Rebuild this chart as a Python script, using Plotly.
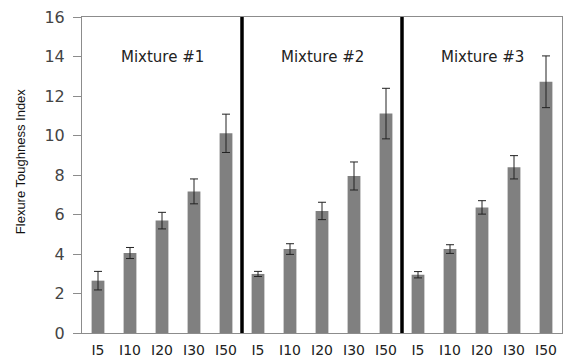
import plotly.graph_objects as go

categories = ["I5", "I10", "I20", "I30", "I50"]
mixtures = ["Mixture #1", "Mixture #2", "Mixture #3"]
values_m1 = [2.65, 4.05, 5.69, 7.17, 10.11]
values_m2 = [2.99, 4.25, 6.18, 7.95, 11.11]
values_m3 = [2.95, 4.25, 6.36, 8.39, 12.72]
errors_m1 = [0.47, 0.28, 0.42, 0.63, 0.97]
errors_m2 = [0.13, 0.27, 0.44, 0.71, 1.28]
errors_m3 = [0.16, 0.22, 0.34, 0.59, 1.31]
y_ticks = [0, 2, 4, 6, 8, 10, 12, 14, 16]
y_title = "Flexure Toughness Index"

values = values_m1 + values_m2 + values_m3
errors = errors_m1 + errors_m2 + errors_m3
labels = categories * 3
xs = list(range(len(values)))

fig = go.Figure()
fig.add_trace(go.Bar(
    x=xs, y=values,
    marker=dict(color="#808080", line=dict(width=0)),
    error_y=dict(type="data", array=errors, visible=True, color="#222222", thickness=1, width=4),
    width=0.4,
    showlegend=False,
    hoverinfo="skip",
))

n = len(categories)
for k in range(1, len(mixtures)):
    xpos = k * n - 0.5
    fig.add_shape(type="line", x0=xpos, x1=xpos, y0=0, y1=16, xref="x", yref="y",
                  line=dict(color="black", width=3.5))

for k, name in enumerate(mixtures):
    fig.add_annotation(x=k * n + 2, y=14, text=name, showarrow=False,
                       font=dict(family="DejaVu Sans", size=15, color="#222222"))

fig.add_annotation(xref="paper", yref="paper", x=-0.129, y=0.544, text=y_title,
                   textangle=-90, showarrow=False, xanchor="center", yanchor="middle",
                   font=dict(family="Liberation Sans Narrow, Arial Narrow, Liberation Sans", size=13, color="#111111"))

fig.update_layout(
    width=567, height=359,
    margin=dict(l=82, r=5, t=17, b=26, autoexpand=False),
    plot_bgcolor="white", paper_bgcolor="white",
    bargap=0.6,
)
fig.update_xaxes(
    range=[-0.5, len(values) - 0.5],
    tickmode="array", tickvals=xs, ticktext=labels,
    tickfont=dict(family="DejaVu Sans", size=14, color="#222222"),
    showline=True, linecolor="#8c8c8c", linewidth=1, mirror=True,
    showgrid=False, ticks="", zeroline=False, automargin=False,
    ticklabelstandoff=4,
)
fig.update_yaxes(
    range=[0, 16], tickmode="array", tickvals=y_ticks,
    tickfont=dict(family="DejaVu Sans", size=16, color="#444444"),
    showline=True, linecolor="#8c8c8c", linewidth=1, mirror=True,
    ticks="outside", ticklen=8, tickcolor="#8c8c8c",
    showgrid=False, zeroline=False, automargin=False,
    ticklabelstandoff=5,
)

fig.write_html("out.html", config={"displayModeBar": False},
               post_script="document.body.style.margin='0';")
